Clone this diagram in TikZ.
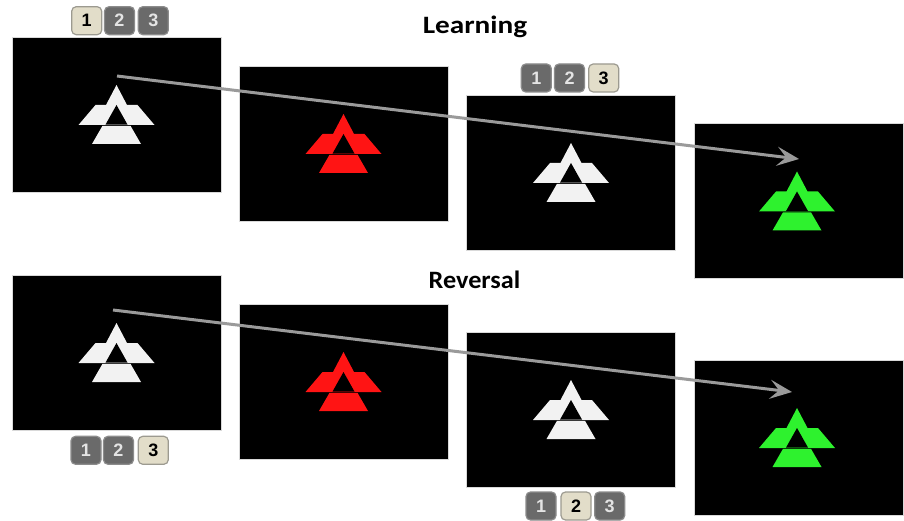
\documentclass[tikz,border=0pt]{standalone}
\usepackage{graphicx}
\usepackage{fontspec}
\setmainfont{Liberation Sans}
\newfontfamily\titlefont{Carlito}
\usetikzlibrary{arrows.meta}

\definecolor{glyphwhite}{HTML}{F2F2F2}
\definecolor{glyphred}{HTML}{FF1414}
\definecolor{glyphgreen}{HTML}{2EF22E}
\definecolor{keyonfill}{HTML}{E2DDC9}
\definecolor{keyonedge}{HTML}{9C9A90}
\definecolor{keyofffill}{HTML}{6A6A6A}
\definecolor{keyoffedge}{HTML}{8C8C8C}
\definecolor{keyofftext}{HTML}{E4E4E4}
\definecolor{pathgray}{HTML}{9A9A9A}

\tikzset{
  screen/.style={fill=black, draw=black!15, line width=0.6pt,
    minimum width=209pt, minimum height=155pt, inner sep=0pt, outer sep=0pt},
  keybase/.style={rounded corners=4.5pt, line width=1.2pt,
    minimum width=30pt, minimum height=28pt, inner sep=0pt,
    font=\fontsize{18}{18}\selectfont\bfseries},
  keyon/.style={keybase, fill=keyonfill, draw=keyonedge, text=black},
  keyoff/.style={keybase, fill=keyofffill, draw=keyoffedge, text=keyofftext},
  title/.style={font=\titlefont\fontsize{25}{25}\selectfont\bfseries, anchor=base},
  pathline/.style={draw=pathgray, line width=3pt,
    -{Stealth[length=22pt,width=19pt,inset=9pt,fill=pathgray]}},
  pics/glyph/.style={code={
    % upper triangle joined to the wide band
    \fill[#1] (0,0) -- (10.5,20) -- (21,20) -- (38,40) -- (-38,40)
      -- (-21,20) -- (-10.5,20) -- cycle;
    % hollow triangle in the band
    \fill[black] (0,20) -- (11,39.6) -- (-11,39.6) -- cycle;
    % lower trapezoid
    \fill[#1] (-14,40.8) -- (14,40.8) -- (24.5,59) -- (-24.5,59) -- cycle;
  }}
}

\begin{document}
\begin{tikzpicture}[x=1pt, y=-1pt]
\useasboundingbox[fill=white] (0,0) rectangle (904,521);

% learning sequence
\node[screen] (p1) at (116.5,114.5) {};
\node[screen] (p2) at (343.5,143.5) {};
\node[screen] (p3) at (571,172.5) {};
\node[screen] (p4) at (798.5,201) {};
\pic at (116.5,85) {glyph=glyphwhite};
\pic at (343.5,114) {glyph=glyphred};
\pic at (571,143) {glyph=glyphwhite};
\pic at (797,171.5) {glyph=glyphgreen};

% reversal sequence
\node[screen] (q1) at (116.5,352.5) {};
\node[screen] (q2) at (343.5,381.5) {};
\node[screen] (q3) at (571,409.5) {};
\node[screen] (q4) at (798.5,437.5) {};
\pic at (116.5,323) {glyph=glyphwhite};
\pic at (343.5,352) {glyph=glyphred};
\pic at (571,380) {glyph=glyphwhite};
\pic at (797,408) {glyph=glyphgreen};

% response keys
\node[keyon]  (ka1) at (86.7,20.7) {1};
\node[keyoff] (ka2) at (119.5,20.7) {2};
\node[keyoff] (ka3) at (153.3,20.7) {3};

\node[keyoff] (kb1) at (536.3,78) {1};
\node[keyoff] (kb2) at (569.5,78) {2};
\node[keyon]  (kb3) at (603.7,78) {3};

\node[keyoff] (kc1) at (86,450.3) {1};
\node[keyoff] (kc2) at (118.5,450.3) {2};
\node[keyon]  (kc3) at (153.3,450.3) {3};

\node[keyoff] (kd1) at (541,506) {1};
\node[keyon]  (kd2) at (576,506) {2};
\node[keyoff] (kd3) at (609.7,506) {3};

% titles
\node[title] (learn) at (475,34) {\scalebox{1.17}[1]{Learning}};
\node[title] (rev) at (474.5,288) {\scalebox{1.05}[1]{Reversal}};

% trial-to-outcome arrows
\coordinate (la) at (117,76);
\coordinate (lb) at (799,159);
\coordinate (ra) at (113,310);
\coordinate (rb) at (792,392);
\draw[pathline] (la) -- (lb);
\draw[pathline] (ra) -- (rb);
\end{tikzpicture}
\end{document}
